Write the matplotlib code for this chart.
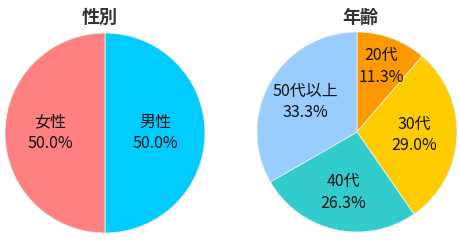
import matplotlib.pyplot as plt
import numpy as np

plt.rcParams['font.family'] = ['Noto Sans CJK JP', 'DejaVu Sans']

# 性別
sex_labels = ['男性', '女性']
sex_values = [50.0, 50.0]
sex_colors = ['#00CCFF', '#FF8080']

# 年齢
age_labels = ['20代', '30代', '40代', '50代以上']
age_values = [11.3, 29.0, 26.3, 33.3]
age_colors = ['#FF9900', '#FFCC00', '#33CCCC', '#99CCFF']


def DrawPie(ax, values, labels, colors, distances):
    wedges, _ = ax.pie(values, colors=colors, startangle=90, counterclock=False,
                       radius=1, wedgeprops=dict(edgecolor='#EEEEEE', linewidth=0.6))
    for w, lab, v, d in zip(wedges, labels, values, distances):
        ang = np.deg2rad((w.theta1 + w.theta2) / 2)
        x = d * np.cos(ang)
        y = d * np.sin(ang)
        ax.text(x, y, lab + '\n' + '%.1f%%' % v,
                ha='center', va='center', fontsize=11.5, color='#111111', linespacing=1.35)
    ax.set_xlim(-1, 1)
    ax.set_ylim(-1, 1)
    ax.set_aspect('equal')
    ax.axis('off')


fig = plt.figure(figsize=(4.6, 2.4), dpi=100)

ax1 = fig.add_axes([5 / 460, 7 / 240, 200 / 460, 200 / 240])
DrawPie(ax1, sex_values, sex_labels, sex_colors, [0.5, 0.55])

ax2 = fig.add_axes([257 / 460, 8 / 240, 200 / 460, 200 / 240])
DrawPie(ax2, age_values, age_labels, age_colors, [0.7, 0.57, 0.62, 0.6])

fig.text(100 / 460, 1 - 17 / 240, '性別', ha='center', va='center',
         fontsize=13, fontweight='bold', color='#333333')
fig.text(360 / 460, 1 - 17 / 240, '年齢', ha='center', va='center',
         fontsize=13, fontweight='bold', color='#333333')

fig.savefig('out.png', dpi=100)
